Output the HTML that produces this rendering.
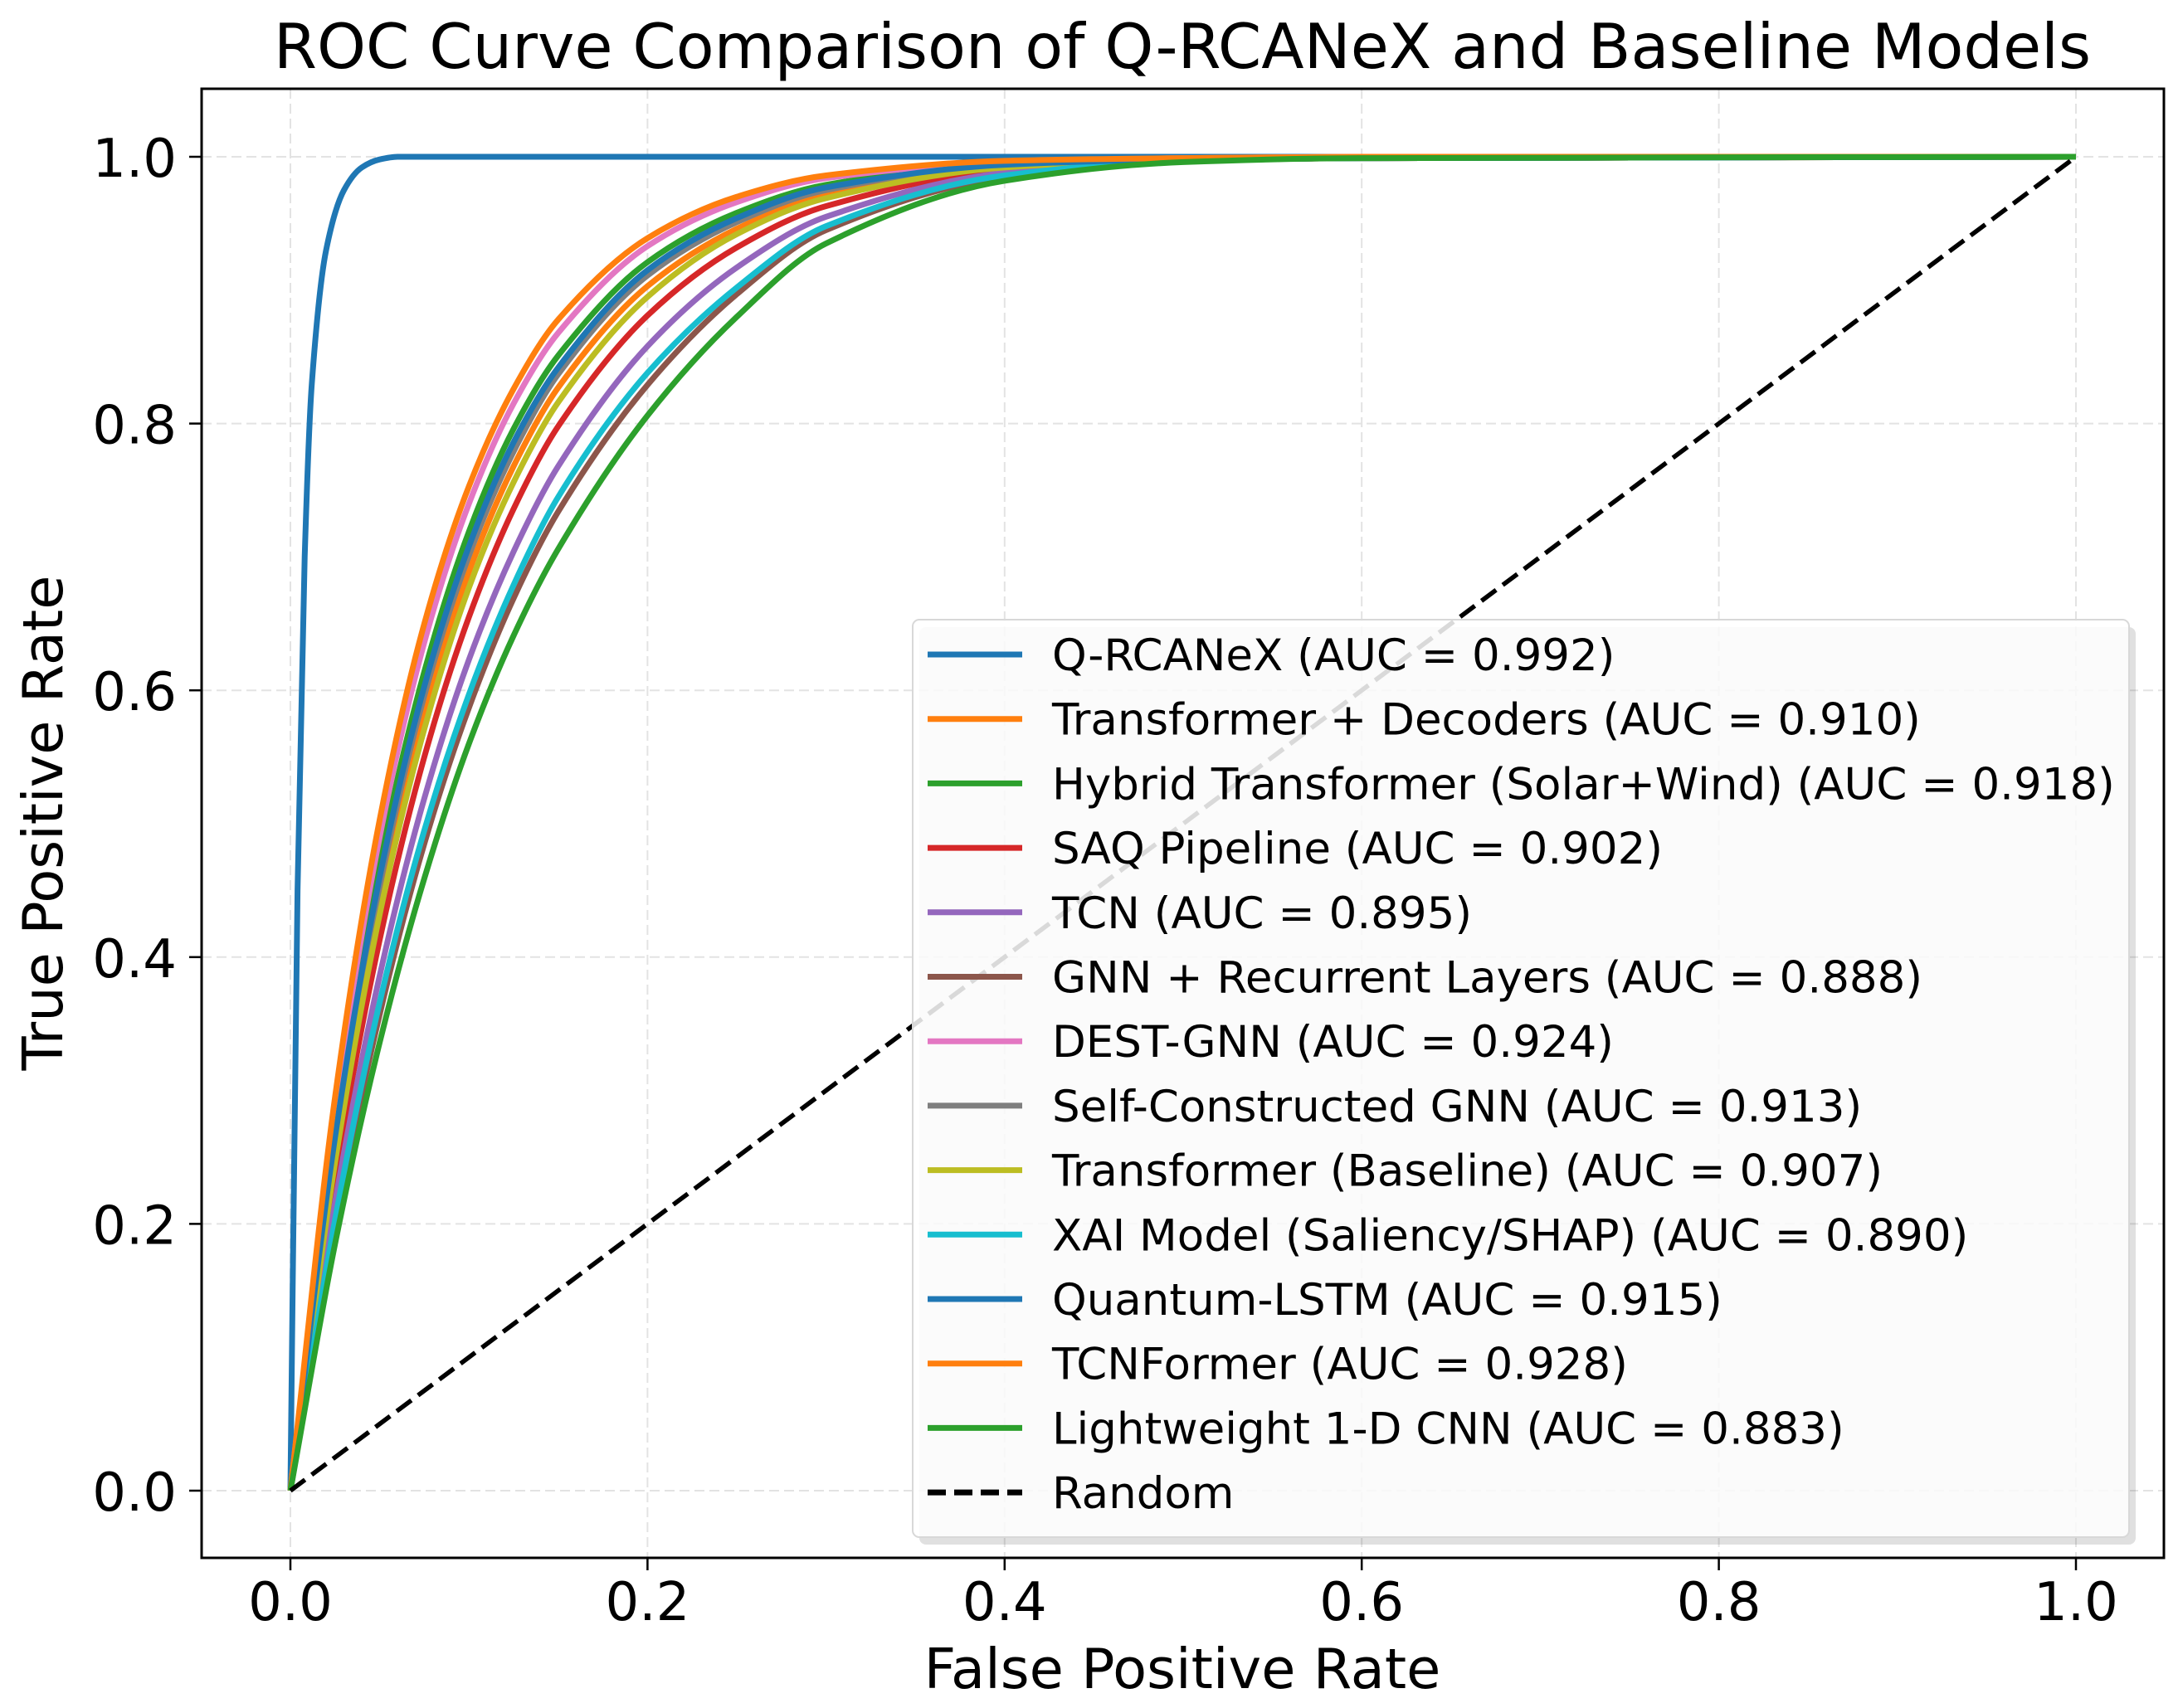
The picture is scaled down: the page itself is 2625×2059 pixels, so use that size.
<!DOCTYPE html>
<html><head><meta charset="utf-8"><style>
html,body{margin:0;padding:0;background:#fff}
svg{display:block}
text{font-family:"DejaVu Sans","Liberation Sans",sans-serif;fill:#000}
</style></head><body>
<svg id="chart" width="2625" height="2059" viewBox="0 0 2625 2059" xmlns="http://www.w3.org/2000/svg">
<rect width="2625" height="2059" fill="#fff"/>
<text x="1425" y="82" font-size="75" text-anchor="middle">ROC Curve Comparison of Q-RCANeX and Baseline Models</text>
<g id="grid"></g>
<g id="curves"></g>
<g id="axes"></g>
<g id="legend"></g>
<text x="1425" y="2035" font-size="67" text-anchor="middle">False Positive Rate</text>
<text transform="translate(75,992) rotate(-90)" font-size="67" text-anchor="middle">True Positive Rate</text>
</svg>
<script>
const seriesNames = ["Q-RCANeX (AUC = 0.992)","Transformer + Decoders (AUC = 0.910)","Hybrid Transformer (Solar+Wind) (AUC = 0.918)","SAQ Pipeline (AUC = 0.902)","TCN (AUC = 0.895)","GNN + Recurrent Layers (AUC = 0.888)","DEST-GNN (AUC = 0.924)","Self-Constructed GNN (AUC = 0.913)","Transformer (Baseline) (AUC = 0.907)","XAI Model (Saliency/SHAP) (AUC = 0.890)","Quantum-LSTM (AUC = 0.915)","TCNFormer (AUC = 0.928)","Lightweight 1-D CNN (AUC = 0.883)"];
const seriesColors = ["#1f77b4","#ff7f0e","#2ca02c","#d62728","#9467bd","#8c564b","#e377c2","#7f7f7f","#bcbd22","#17becf","#1f77b4","#ff7f0e","#2ca02c"];
const fprTop = [0,0.004,0.008,0.012,0.02,0.03,0.04,0.05,0.06,1];
const tprTop = [0,0.45,0.70,0.83,0.93,0.975,0.992,0.998,1,1];
const fprGrid = [0,0.025,0.05,0.075,0.1,0.125,0.15,0.2,0.25,0.3,0.4,0.5,0.6,1];
const tprDecoders = [0,.253,.442,.584,.689,.768,.827,.903,.946,.972,.993,.998,.999,1];
const tprHybrid = [0,.272,.471,.614,.719,.796,.851,.921,.958,.979,.995,.999,1,1];
const tprSAQ = [0,.234,.413,.550,.655,.736,.798,.881,.932,.963,.990,.997,.999,1];
const tprTCN = [0,.216,.386,.519,.623,.704,.768,.858,.917,.955,.988,.997,.999,1];
const tprGNNRec = [0,.198,.357,.485,.587,.669,.734,.829,.897,.945,.985,.997,.999,1];
const tprDEST = [0,.286,.490,.636,.740,.815,.868,.933,.966,.984,.996,.999,1,1];
const tprSelfGNN = [0,.261,.453,.596,.701,.779,.837,.911,.951,.975,.994,.998,.999,1];
const tprTransBase = [0,.246,.432,.571,.677,.756,.816,.895,.942,.969,.992,.998,.999,1];
const tprXAI = [0,.203,.366,.495,.597,.679,.745,.838,.902,.948,.986,.997,.999,1];
const tprQLSTM = [0,.265,.460,.603,.708,.786,.842,.915,.954,.977,.994,.998,.999,1];
const tprTCNFormer = [0,.295,.503,.650,.753,.826,.878,.939,.970,.986,.997,.999,1,1];
const tprLight = [0,.185,.336,.459,.560,.641,.706,.806,.880,.935,.982,.996,.999,1];
const randomX = [0,1];
const randomY = [0,1];
const xTicks = [0,0.2,0.4,0.6,0.8,1.0];
const xTickLabels = ["0.0","0.2","0.4","0.6","0.8","1.0"];
const yTicks = [0,0.2,0.4,0.6,0.8,1.0];
const yTickLabels = ["0.0","0.2","0.4","0.6","0.8","1.0"];

const NS="http://www.w3.org/2000/svg";
const L=243,R=2608,T=107,B=1878;
const X0=350,XS=2152,Y0=1797,YS=1608;
const sx=v=>X0+v*XS, sy=v=>Y0-v*YS;
function mk(tag,parent){const e=document.createElementNS(NS,tag);parent.appendChild(e);return e;}

const grid=document.getElementById('grid');
xTicks.forEach(v=>{const l=mk('line',grid);


l.setAttribute('x1',sx(v));l.setAttribute('x2',sx(v));l.setAttribute('y1',T);l.setAttribute('y2',B);
l.setAttribute('stroke','#e3e3e3');l.setAttribute('stroke-width',2);l.setAttribute('stroke-dasharray','12,6');});
yTicks.forEach(v=>{const l=mk('line',grid);


l.setAttribute('x1',L);l.setAttribute('x2',R);l.setAttribute('y1',sy(v));l.setAttribute('y2',sy(v));
l.setAttribute('stroke','#e3e3e3');l.setAttribute('stroke-width',2);l.setAttribute('stroke-dasharray','12,6');});

function pathFor(xs,ys){
  const n=xs.length,px=xs.map(sx),py=ys.map(sy);
  const d=[],m=[];
  for(let i=0;i<n-1;i++)d.push((ys[i+1]-ys[i])/(xs[i+1]-xs[i]));
  m[0]=d[0];m[n-1]=d[n-2];
  for(let i=1;i<n-1;i++){m[i]=(d[i-1]*d[i]<=0)?0:2/(1/d[i-1]+1/d[i]);}
  let s=`M${px[0]},${py[0]}`;
  for(let i=0;i<n-1;i++){const h=xs[i+1]-xs[i];
    const c1x=sx(xs[i]+h/3),c1y=sy(ys[i]+m[i]*h/3),c2x=sx(xs[i+1]-h/3),c2y=sy(ys[i+1]-m[i+1]*h/3);
    s+=` C${c1x},${c1y} ${c2x},${c2y} ${px[i+1]},${py[i+1]}`;}
  return s;
}
const seriesData=[[fprTop,tprTop],[fprGrid,tprDecoders],[fprGrid,tprHybrid],[fprGrid,tprSAQ],[fprGrid,tprTCN],[fprGrid,tprGNNRec],[fprGrid,tprDEST],[fprGrid,tprSelfGNN],[fprGrid,tprTransBase],[fprGrid,tprXAI],[fprGrid,tprQLSTM],[fprGrid,tprTCNFormer],[fprGrid,tprLight]];
const curves=document.getElementById('curves');
seriesData.forEach((sd,i)=>{const p=mk('path',curves);


p.setAttribute('d',pathFor(sd[0],sd[1]));p.setAttribute('fill','none');
p.setAttribute('stroke',seriesColors[i]);p.setAttribute('stroke-width',7);p.setAttribute('stroke-linejoin','round');});
const rl=mk('line',curves);


rl.setAttribute('x1',sx(randomX[0]));rl.setAttribute('y1',sy(randomY[0]));rl.setAttribute('x2',sx(randomX[1]));rl.setAttribute('y2',sy(randomY[1]));
rl.setAttribute('stroke','#000');rl.setAttribute('stroke-width',5.5);rl.setAttribute('stroke-dasharray','22,10');

const axes=document.getElementById('axes');
const fr=mk('rect',axes);


fr.setAttribute('x',L);fr.setAttribute('y',T);fr.setAttribute('width',R-L);fr.setAttribute('height',B-T);
fr.setAttribute('fill','none');fr.setAttribute('stroke','#000');fr.setAttribute('stroke-width',3);
xTicks.forEach((v,i)=>{const t=mk('line',axes);


t.setAttribute('x1',sx(v));t.setAttribute('x2',sx(v));t.setAttribute('y1',B);t.setAttribute('y2',B+15);t.setAttribute('stroke','#000');t.setAttribute('stroke-width',2.5);
const tx=mk('text',axes);


tx.setAttribute('x',sx(v));tx.setAttribute('y',1953);tx.setAttribute('font-size',64);tx.setAttribute('text-anchor','middle');tx.textContent=xTickLabels[i];});
yTicks.forEach((v,i)=>{const t=mk('line',axes);


t.setAttribute('x1',L-15);t.setAttribute('x2',L);t.setAttribute('y1',sy(v));t.setAttribute('y2',sy(v));t.setAttribute('stroke','#000');t.setAttribute('stroke-width',2.5);
const tx=mk('text',axes);


tx.setAttribute('x',213);tx.setAttribute('y',sy(v)+24);tx.setAttribute('font-size',64);tx.setAttribute('text-anchor','end');tx.textContent=yTickLabels[i];});

const lg=document.getElementById('legend');
const sh=mk('rect',lg);


sh.setAttribute('x',1108);sh.setAttribute('y',756);sh.setAttribute('width',1466);sh.setAttribute('height',1106);sh.setAttribute('rx',8);sh.setAttribute('fill','#000');sh.setAttribute('opacity',0.12);
const box=mk('rect',lg);


box.setAttribute('x',1100);box.setAttribute('y',747);box.setAttribute('width',1466);box.setAttribute('height',1106);box.setAttribute('rx',8);
box.setAttribute('fill','#fff');box.setAttribute('fill-opacity',0.85);box.setAttribute('stroke','#d8d8d8');box.setAttribute('stroke-width',2);
const allNames=seriesNames.concat(["Random"]);
allNames.forEach((nm,i)=>{const y=789+i*77.7;
const h=mk('line',lg);


h.setAttribute('x1',1118);h.setAttribute('x2',1232);h.setAttribute('y1',y);h.setAttribute('y2',y);
h.setAttribute('stroke',i<seriesColors.length?seriesColors[i]:'#000');h.setAttribute('stroke-width',7);
if(i>=seriesColors.length)h.setAttribute('stroke-dasharray','22,10');
const tx=mk('text',lg);


tx.setAttribute('x',1268);tx.setAttribute('y',y+19);tx.setAttribute('font-size',53);tx.textContent=nm;});
</script>
</body></html>
